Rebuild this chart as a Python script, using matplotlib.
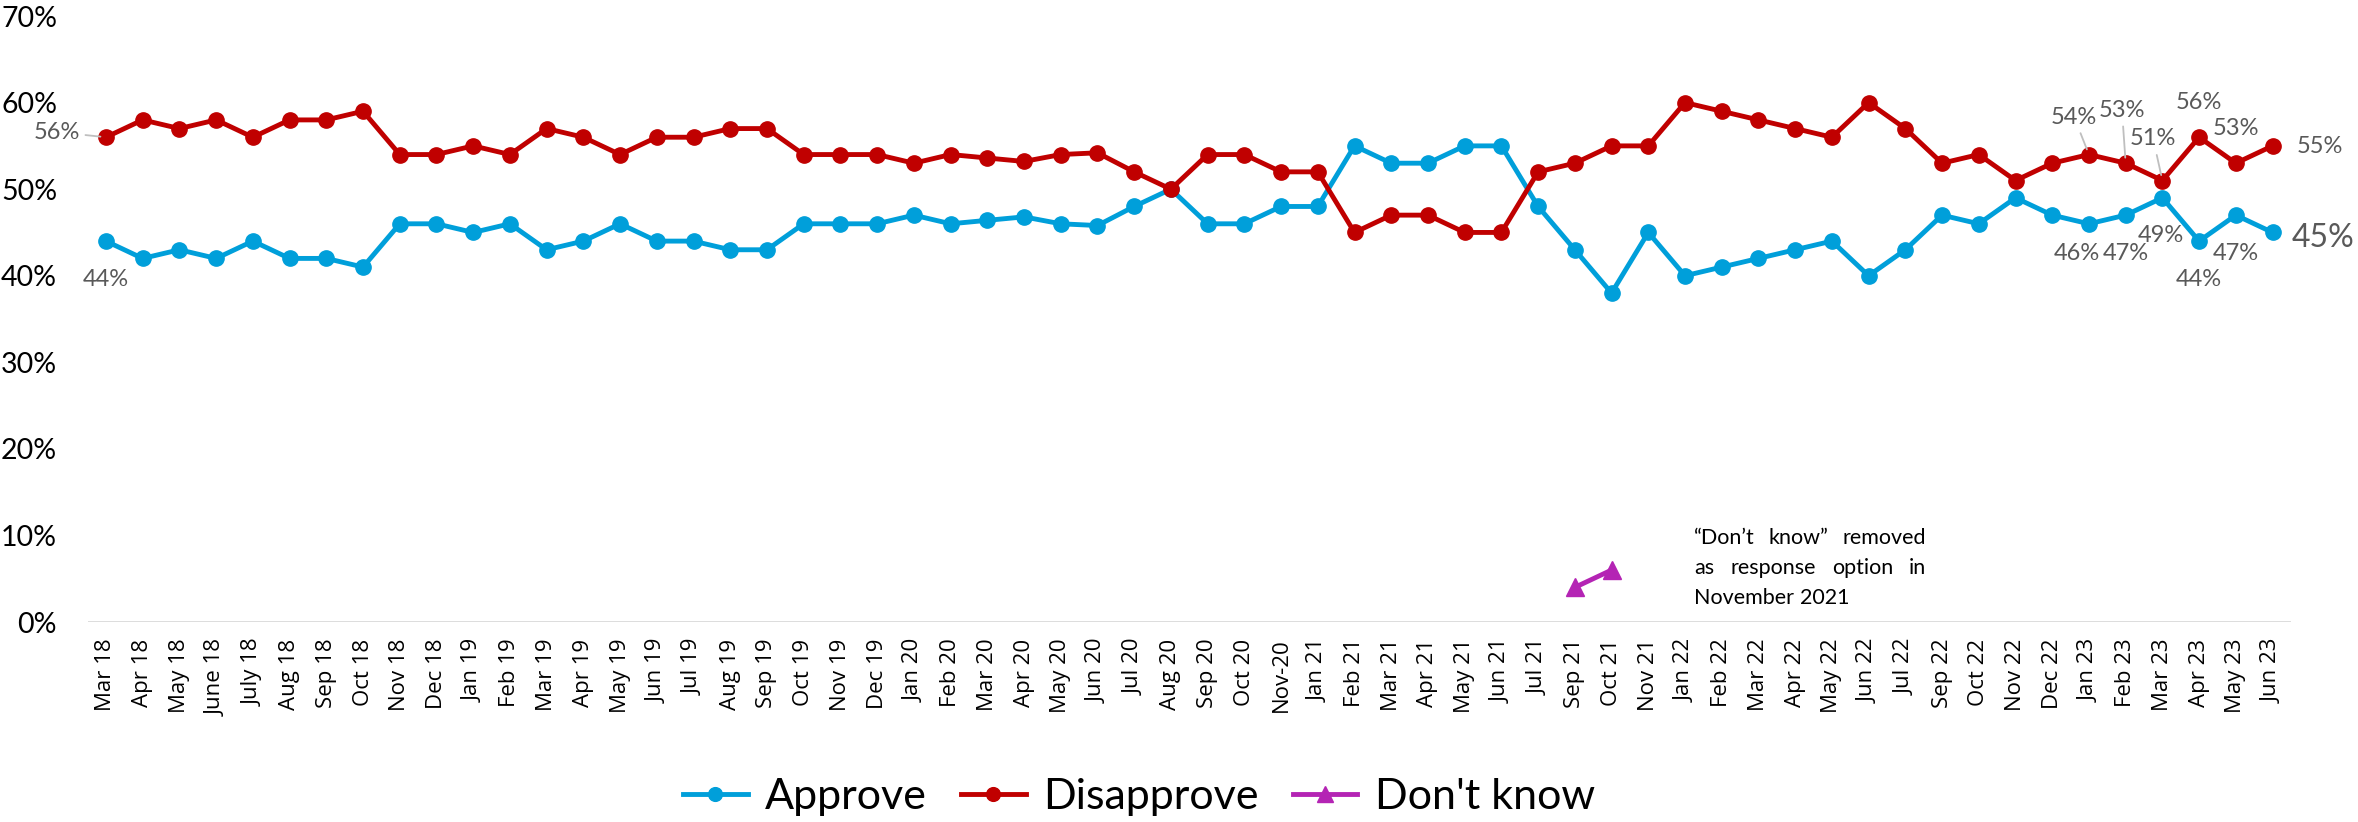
import numpy as np
import matplotlib
matplotlib.use('Agg')
import matplotlib.pyplot as plt

# survey months (category axis)
months = ['Mar 18', 'Apr 18', 'May 18', 'June 18', 'July 18', 'Aug 18', 'Sep 18', 'Oct 18',
          'Nov 18', 'Dec 18', 'Jan 19', 'Feb 19', 'Mar 19', 'Apr 19', 'May 19', 'Jun 19',
          'Jul 19', 'Aug 19', 'Sep 19', 'Oct 19', 'Nov 19', 'Dec 19', 'Jan 20', 'Feb 20',
          'Mar 20', 'Apr 20', 'May 20', 'Jun 20', 'Jul 20', 'Aug 20', 'Sep 20', 'Oct 20',
          'Nov-20', 'Jan 21', 'Feb 21', 'Mar 21', 'Apr 21', 'May 21', 'Jun 21', 'Jul 21',
          'Sep 21', 'Oct 21', 'Nov 21', 'Jan 22', 'Feb 22', 'Mar 22', 'Apr 22', 'May 22',
          'Jun 22', 'Jul 22', 'Sep 22', 'Oct 22', 'Nov 22', 'Dec 22', 'Jan 23', 'Feb 23',
          'Mar 23', 'Apr 23', 'May 23', 'Jun 23']

approve = [44, 42, 43, 42, 44, 42, 42, 41, 46, 46, 45, 46, 43, 44, 46, 44,
           44, 43, 43, 46, 46, 46, 47, 46, 46.4, 46.8, 46, 45.8, 48, 50, 46, 46,
           48, 48, 55, 53, 53, 55, 55, 48, 43, 38, 45, 40, 41, 42, 43, 44,
           40, 43, 47, 46, 49, 47, 46, 47, 49, 44, 47, 45]

disapprove = [56, 58, 57, 58, 56, 58, 58, 59, 54, 54, 55, 54, 57, 56, 54, 56,
              56, 57, 57, 54, 54, 54, 53, 54, 53.6, 53.2, 54, 54.2, 52, 50, 54, 54,
              52, 52, 45, 47, 47, 45, 45, 52, 53, 55, 55, 60, 59, 58, 57, 56,
              60, 57, 53, 54, 51, 53, 54, 53, 51, 56, 53, 55]

dont_know = [np.nan] * 40 + [4, 6] + [np.nan] * 18

yticks = [0, 10, 20, 30, 40, 50, 60, 70]

note_lines = ['\u201cDon\u2019t know\u201d removed', 'as response option in', 'November 2021']

# labelled points: (index, dx, dy, leader line?, fontsize)
labels_dis = [(0, -1.34, 0.6, True, 17), (54, -0.4, 4.3, True, 17), (55, -0.1, 6.1, True, 17),
              (56, -0.25, 4.8, True, 17), (57, 0.0, 4.0, False, 17), (58, 0.0, 4.0, False, 17),
              (59, 1.28, -0.1, False, 17)]
labels_app = [(0, 0.0, -4.4, False, 17), (54, -0.34, -3.4, False, 17), (55, 0.0, -4.4, False, 17),
              (56, -0.04, -4.3, False, 17), (57, 0.0, -4.4, False, 17), (58, 0.0, -4.4, False, 17),
              (59, 1.37, -0.6, False, 23)]

c_app = '#009FDA'
c_dis = '#C00000'
c_dk = '#B424B4'
c_lab = '#595959'

plt.rcParams['font.family'] = ['Lato', 'DejaVu Sans']

fig = plt.figure(figsize=(23.58, 8.22), dpi=100)
ax = fig.add_axes([0.03715, 0.2433, 0.9344, 0.7372])

x = np.arange(len(months))
ln_a, = ax.plot(x, approve, color=c_app, lw=3.5, marker='o', ms=11, label='Approve', zorder=3)
ln_d, = ax.plot(x, disapprove, color=c_dis, lw=3.5, marker='o', ms=11, label='Disapprove', zorder=3)
ln_k, = ax.plot(x, dont_know, color=c_dk, lw=3.5, marker='^', ms=13, label="Don't know", zorder=3)

ax.set_xlim(-0.5, len(months) - 0.5)
ax.set_ylim(0, 70)
ax.axhline(0, color='#D9D9D9', lw=2, zorder=1)

ax.set_yticks(yticks)
ax.set_yticklabels([f'{v}%' for v in yticks], fontsize=20.5)
ax.set_xticks(x)
ax.set_xticklabels(months, rotation=90, fontsize=16, family=['Open Sans', 'DejaVu Sans'], va='top')
ax.tick_params(axis='both', which='both', length=0)
ax.tick_params(axis='y', pad=22)
ax.tick_params(axis='x', pad=12)
for pos in ['top', 'bottom', 'left', 'right']:
    ax.spines[pos].set_visible(False)


def add_labels(values, specs):
    for i, dx, dy, leader, fs in specs:
        v = values[i]
        arrow = dict(arrowstyle='-', color='#BFBFBF', lw=1.3, shrinkA=2, shrinkB=4) if leader else None
        ax.annotate(f'{v:.0f}%', xy=(i, v), xytext=(i + dx, v + dy), ha='center', va='center',
                    fontsize=fs, color=c_lab, arrowprops=arrow, annotation_clip=False, zorder=4)


add_labels(disapprove, labels_dis)
add_labels(approve, labels_app)

# justified note text
fig.canvas.draw()
renderer = fig.canvas.get_renderer()
x0, x1 = 43.25, 49.57
line_y = [9.7, 6.24, 2.77]
px0 = ax.transData.transform((x0, 0))[0]
px1 = ax.transData.transform((x1, 0))[0]
for k, (line, y) in enumerate(zip(note_lines, line_y)):
    words = line.split(' ')
    txts = [ax.text(0, y, w, fontsize=15.5, color='black', ha='left', va='center') for w in words]
    widths = [t.get_window_extent(renderer).width for t in txts]
    if k < len(note_lines) - 1 and len(words) > 1:
        gap = (px1 - px0 - sum(widths)) / (len(words) - 1)
    else:
        gap = 0.25 * 15.5 * 100 / 72
    pos = px0
    for t, w in zip(txts, widths):
        t.set_x(ax.transData.inverted().transform((pos, 0))[0])
        pos += w + gap

fig.legend(handles=[ln_a, ln_d, ln_k], loc='center', bbox_to_anchor=(0.483, 0.03), ncol=3,
           frameon=False, fontsize=31, handlelength=1.5, handletextpad=0.4, columnspacing=0.8,
           markerscale=0.9)

fig.savefig('out.png', dpi=100)
